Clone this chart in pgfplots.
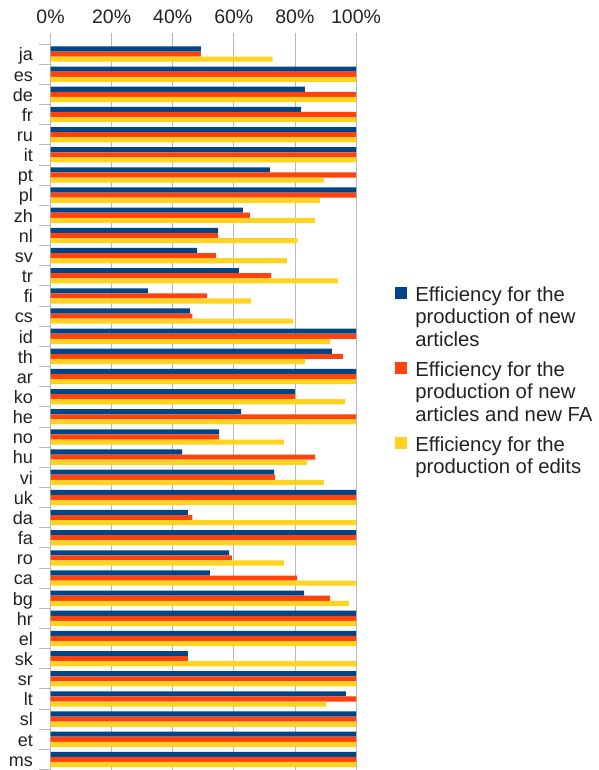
\documentclass[border=0pt]{standalone}
\usepackage{fontspec}
\setmainfont{Liberation Sans}
\usepackage{pgfplots}
\pgfplotsset{compat=1.18}
\usepackage{pgfplotstable}
\definecolor{cA}{HTML}{004586}
\definecolor{cB}{HTML}{FF420E}
\definecolor{cC}{HTML}{FFD320}
\definecolor{gridc}{HTML}{B8B8B8}
\definecolor{txt}{HTML}{222222}

\pgfplotstableread{
idx a b c
0 49.2 49.2 72.7
1 100 100 100
2 83.3 100 100
3 82.0 100 100
4 100 100 100
5 100 100 100
6 71.8 100 89.5
7 100 100 88.2
8 63.0 65.3 86.6
9 54.9 54.9 80.9
10 48.0 54.2 77.4
11 61.7 72.2 94.1
12 31.9 51.3 65.6
13 45.7 46.4 79.4
14 100 100 91.5
15 92.1 95.7 83.3
16 100 100 100
17 80.0 80.0 96.4
18 62.4 100 100
19 55.2 55.2 76.4
20 43.1 86.6 83.9
21 73.2 73.5 89.5
22 100 100 100
23 45.0 46.4 100
24 100 100 100
25 58.5 59.4 76.4
26 52.2 80.7 100
27 83.0 91.5 97.7
28 100 100 100
29 100 100 100
30 45.0 45.0 100
31 100 100 100
32 96.7 100 90.2
33 100 100 100
34 100 100 100
35 100 100 100
}\data

\begin{document}
\begin{tikzpicture}
\path (0,0) rectangle (598pt,770pt);
\begin{axis}[
  at={(50.5pt,0.5pt)}, anchor=south west,
  scale only axis, width=305.5pt, height=725.5pt,
  xbar=0pt, bar width=5.1pt,
  xmin=0, xmax=100, ymin=-0.5, ymax=35.5, y dir=reverse,
  axis line style={draw=none},
  xtick={0,20,40,60,80,100},
  xticklabels={0\%,20\%,40\%,60\%,80\%,100\%},
  xtick pos=right, xticklabel pos=right,
  xmajorgrids, grid style={gridc, line width=0.8pt},
  major tick length=11pt, tick align=outside,
  xtick style={gridc, line width=0.8pt},
  ytick style={gridc, line width=0.8pt},
  ytick={-0.5,0.5,...,35.5},
  y tick label as interval,
  yticklabels={ja,es,de,fr,ru,it,pt,pl,zh,nl,sv,tr,fi,cs,id,th,ar,ko,he,no,hu,vi,uk,da,fa,ro,ca,bg,hr,el,sk,sr,lt,sl,et,ms},
  ytick pos=left,
  xticklabel style={font=\fontsize{19.5}{20}\selectfont, text=txt, anchor=base, inner sep=0pt, yshift=9pt},
  yticklabel style={font=\fontsize{18}{18}\selectfont, text=txt, anchor=base east, inner sep=0pt, xshift=-6.5pt, yshift=-6.8pt},
  legend style={at={(1.1277,0.6658)}, anchor=north west, draw=none, fill=none,
    inner sep=0pt, outer sep=0pt, column sep=8pt, row sep=0pt,
    cells={anchor=base west},
    nodes={inner sep=0pt, outer sep=0pt, anchor=base west, text=txt, text height=15pt, text depth=60pt, font=\fontsize{20.3}{22.4}\selectfont}},
  legend image code/.code={\fill[#1] (0pt,2.3pt) rectangle (12.3pt,14.5pt);},
]
\addplot[fill=cA, draw=none, bar shift=5.1pt] table[x=a, y=idx]{\data};
\addlegendentry{\parbox[t]{180pt}{Efficiency for the\\production of new\\articles}}
\addplot[fill=cB, draw=none, bar shift=0pt] table[x=b, y=idx]{\data};
\addlegendentry{\parbox[t]{180pt}{Efficiency for the\\production of new\\articles and new FA}}
\addplot[fill=cC, draw=none, bar shift=-5.1pt] table[x=c, y=idx]{\data};
\addlegendentry{\parbox[t]{180pt}{Efficiency for the\\production of edits}}
\end{axis}
\end{tikzpicture}
\end{document}
